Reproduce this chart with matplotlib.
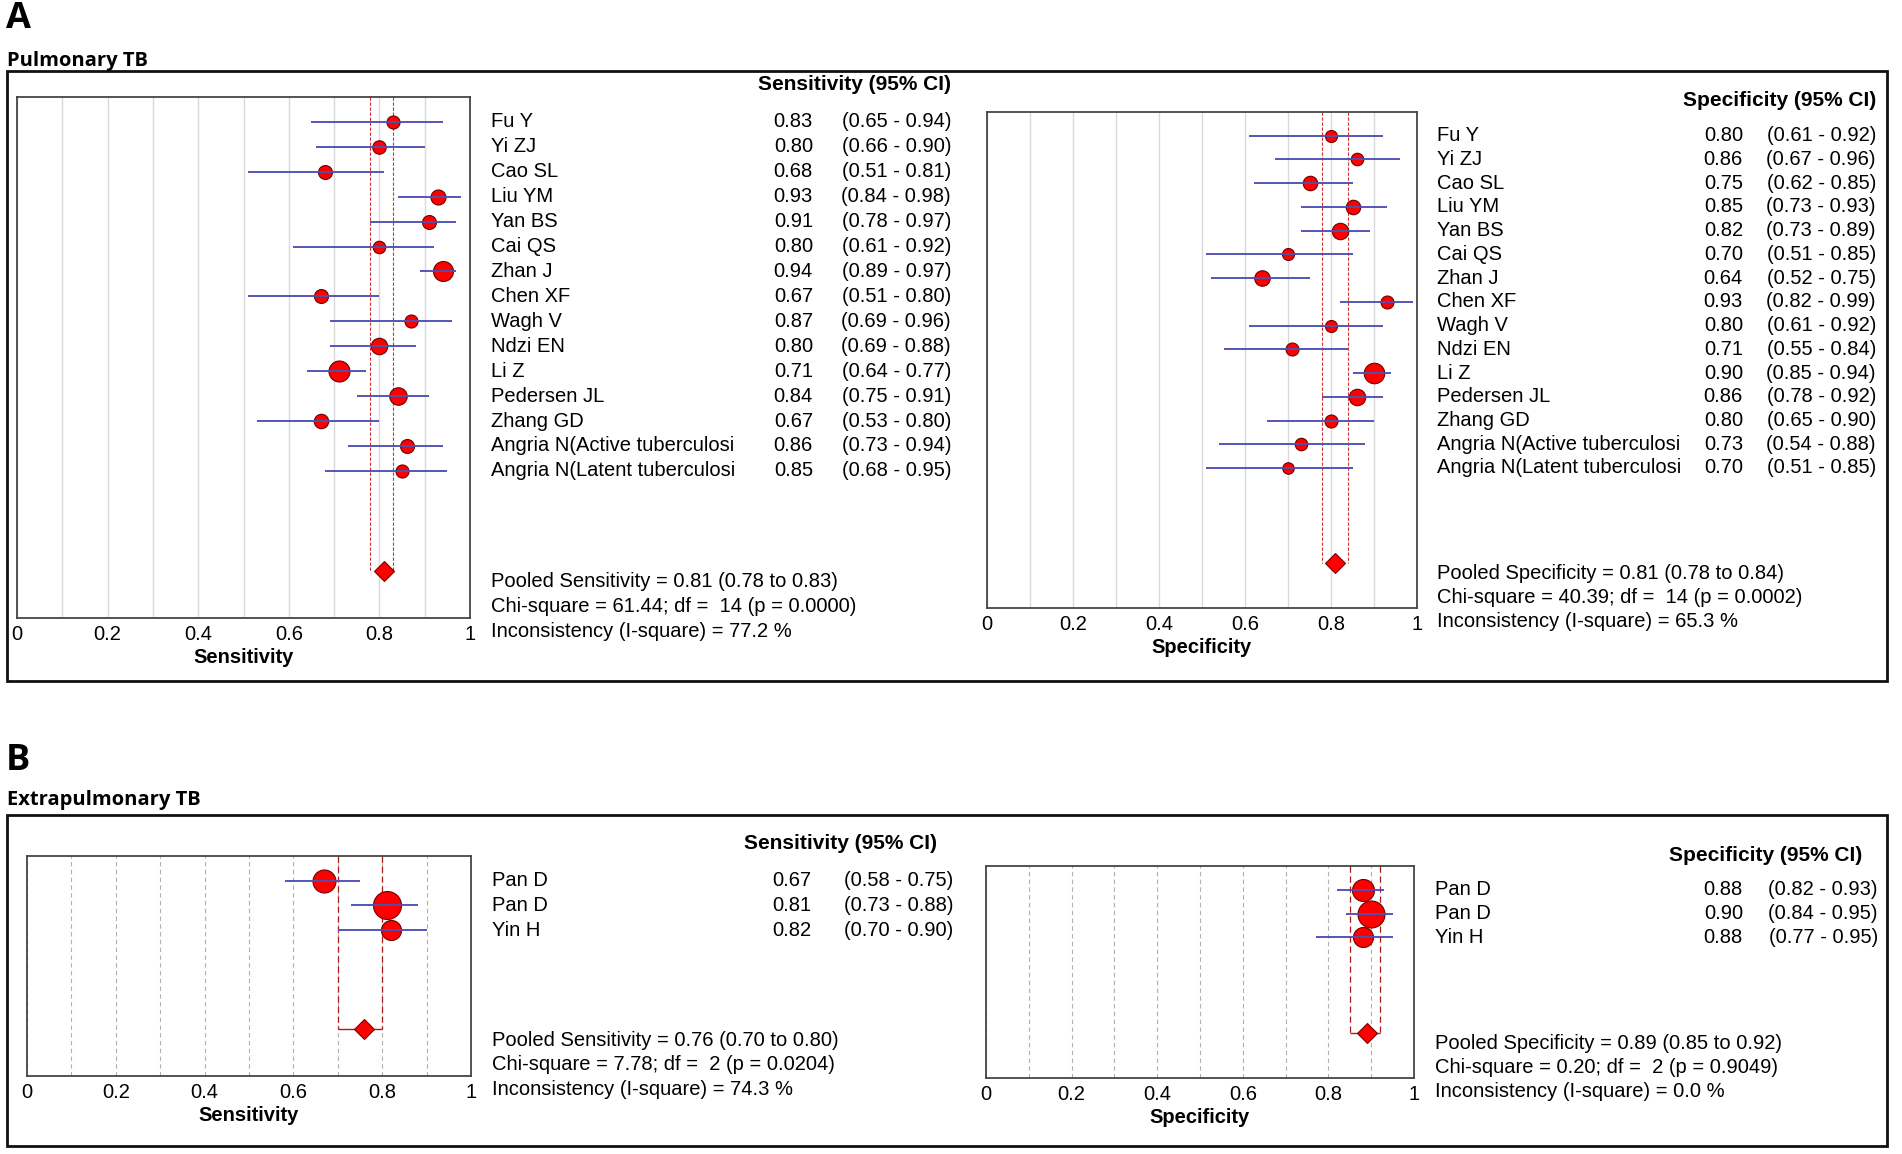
import numpy as np
import matplotlib
matplotlib.use('Agg')
import matplotlib.pyplot as plt
from matplotlib import transforms
from matplotlib.patches import Rectangle

plt.rcParams['font.family'] = ['Liberation Sans', 'DejaVu Sans']

W, H = 1902, 1154

# ---- A: Pulmonary TB ----
pul_studies = ['Fu Y', 'Yi ZJ', 'Cao SL', 'Liu YM', 'Yan BS', 'Cai QS', 'Zhan J', 'Chen XF',
               'Wagh V', 'Ndzi EN', 'Li Z', 'Pedersen JL', 'Zhang GD',
               'Angria N(Active tuberculosi', 'Angria N(Latent tuberculosi']
pul_sens = [0.83, 0.80, 0.68, 0.93, 0.91, 0.80, 0.94, 0.67, 0.87, 0.80, 0.71, 0.84, 0.67, 0.86, 0.85]
pul_sens_lo = [0.65, 0.66, 0.51, 0.84, 0.78, 0.61, 0.89, 0.51, 0.69, 0.69, 0.64, 0.75, 0.53, 0.73, 0.68]
pul_sens_hi = [0.94, 0.90, 0.81, 0.98, 0.97, 0.92, 0.97, 0.80, 0.96, 0.88, 0.77, 0.91, 0.80, 0.94, 0.95]
pul_sens_w = [4.9, 5.2, 5.6, 6.5, 5.6, 4.5, 11.5, 5.6, 4.9, 7.8, 12.7, 8.8, 6.0, 5.6, 4.9]
pul_sens_pool = [0.81, 0.78, 0.83]
pul_sens_het = [61.44, 14, 0.0000, 77.2]

pul_spec = [0.80, 0.86, 0.75, 0.85, 0.82, 0.70, 0.64, 0.93, 0.80, 0.71, 0.90, 0.86, 0.80, 0.73, 0.70]
pul_spec_lo = [0.61, 0.67, 0.62, 0.73, 0.73, 0.51, 0.52, 0.82, 0.61, 0.55, 0.85, 0.78, 0.65, 0.54, 0.51]
pul_spec_hi = [0.92, 0.96, 0.85, 0.93, 0.89, 0.85, 0.75, 0.99, 0.92, 0.84, 0.94, 0.92, 0.90, 0.88, 0.85]
pul_spec_w = [4.8, 5.2, 7.0, 7.0, 9.0, 4.8, 8.0, 5.6, 4.8, 5.6, 14.0, 9.0, 5.6, 5.2, 4.4]
pul_spec_pool = [0.81, 0.78, 0.84]
pul_spec_het = [40.39, 14, 0.0002, 65.3]

# ---- B: Extrapulmonary TB ----
ext_studies = ['Pan D', 'Pan D', 'Yin H']
ext_sens = [0.67, 0.81, 0.82]
ext_sens_lo = [0.58, 0.73, 0.70]
ext_sens_hi = [0.75, 0.88, 0.90]
ext_sens_w = [30.9, 45.8, 23.4]
ext_sens_pool = [0.76, 0.70, 0.80]
ext_sens_het = [7.78, 2, 0.0204, 74.3]

ext_spec = [0.88, 0.90, 0.88]
ext_spec_lo = [0.82, 0.84, 0.77]
ext_spec_hi = [0.93, 0.95, 0.95]
ext_spec_w = [30.0, 45.2, 24.8]
ext_spec_pool = [0.89, 0.85, 0.92]
ext_spec_het = [0.20, 2, 0.9049, 0.0]

xticks = [0, 0.2, 0.4, 0.6, 0.8, 1]
xticklabels = ['0', '0.2', '0.4', '0.6', '0.8', '1']

fig = plt.figure(figsize=(W / 100, H / 100), dpi=100)


def px_axes(x0, y0, x1, y1):
    return fig.add_axes([x0 / W, 1 - y1 / H, (x1 - x0) / W, (y1 - y0) / H])


def forest(ax, names, est, lo, hi, w, pool, het, measure, txt, dmax, dashed_grid, bracket):
    n = len(names)
    yd = n + 3
    ys = np.arange(n)
    ax.set_xlim(0, 1)
    ax.set_ylim(yd + 1.9, -1.0)
    ax.set_xticks(xticks)
    ax.set_xticklabels(xticklabels, fontsize=14.5)
    ax.set_xticks(np.arange(0.1, 1.0, 0.1), minor=True)
    ax.set_yticks([])
    ax.tick_params(axis='x', which='both', length=0, pad=5)
    if dashed_grid:
        ax.grid(True, axis='x', which='both', color='#b0b0b0', lw=0.8, ls=(0, (4, 3)))
    else:
        ax.grid(True, axis='x', which='both', color='#dadada', lw=1.0)
    ax.set_axisbelow(True)
    for s in ax.spines.values():
        s.set_color('#454545')
        s.set_linewidth(1.3)
    ax.set_xlabel(measure, fontsize=14.5, fontweight='bold', labelpad=3)

    # study markers and CIs
    wmax = max(w)
    for i in range(n):
        ms = dmax / 1.389 * np.sqrt(w[i] / wmax)
        ax.plot(est[i], ys[i], 'o', ms=ms, mfc='#ff0000', mec='#700000', mew=0.8, zorder=3)
    ax.hlines(ys, lo, hi, color='#4e4eb4', lw=1.35, zorder=4)

    # pooled estimate
    p, plo, phi = pool
    if bracket:
        ax.vlines([plo, phi], -1.0, yd, color='#b01818', lw=0.9, ls=(0, (5, 3)), zorder=2)
        ax.hlines(yd, plo, phi, color='#b01818', lw=1.0, zorder=2)
    else:
        ax.vlines([plo, phi], -1.0, yd, color='#d03030', lw=0.8, ls=(0, (3, 1.5)), zorder=2)
    ax.plot(p, yd, 'D', ms=10.5, mfc='#ff0000', mec='#800000', mew=0.8, zorder=5)

    # text columns
    xn, xv, xc, xh, hy = txt
    tr = transforms.blended_transform_factory(fig.transFigure, ax.transData)
    ax.text(xh / W, hy, f'{measure} (95% CI)', transform=tr, ha='right', va='center',
            fontsize=15, fontweight='bold')
    for i in range(n):
        ax.text(xn / W, ys[i], names[i], transform=tr, ha='left', va='center', fontsize=14.5)
        ax.text(xv / W, ys[i], f'{est[i]:.2f}', transform=tr, ha='right', va='center', fontsize=14.5)
        ax.text(xc / W, ys[i], f'({lo[i]:.2f} - {hi[i]:.2f})', transform=tr, ha='right',
                va='center', fontsize=14.5)
    chi, df, pv, isq = het
    lines = [f'Pooled {measure} = {p:.2f} ({plo:.2f} to {phi:.2f})',
             f'Chi-square = {chi:.2f}; df =  {df} (p = {pv:.4f})',
             f'Inconsistency (I-square) = {isq:.1f} %']
    for k, line in enumerate(lines):
        ax.text(xn / W, yd + 0.45 + k, line, transform=tr, ha='left', va='center', fontsize=14.5)


# outer boxes
for (x0, y0, x1, y1) in [(7, 71, 1887, 681), (7, 815, 1887, 1146)]:
    fig.patches.append(Rectangle((x0 / W, 1 - y1 / H), (x1 - x0) / W, (y1 - y0) / H,
                                 transform=fig.transFigure, fill=False, ec='#111111', lw=2.0))

title_font = ['Open Sans', 'DejaVu Sans']
fig.text(6 / W, 1 - 19 / H, 'A', fontsize=26, fontweight='bold', family=title_font, va='center')
fig.text(7 / W, 1 - 61 / H, 'Pulmonary TB', fontsize=14.5, fontweight='bold', family=title_font,
         va='center')
fig.text(6 / W, 1 - 761 / H, 'B', fontsize=26, fontweight='bold', family=title_font, va='center')
fig.text(7 / W, 1 - 800 / H, 'Extrapulmonary TB', fontsize=14.5, fontweight='bold',
         family=title_font, va='center')

ax1 = px_axes(17, 97, 470, 618)
forest(ax1, pul_studies, pul_sens, pul_sens_lo, pul_sens_hi, pul_sens_w, pul_sens_pool,
       pul_sens_het, 'Sensitivity', (491, 813, 951, 951, -1.5), 21, False, False)
ax2 = px_axes(987, 112, 1417, 608)
forest(ax2, pul_studies, pul_spec, pul_spec_lo, pul_spec_hi, pul_spec_w, pul_spec_pool,
       pul_spec_het, 'Specificity', (1437, 1743, 1876, 1876, -1.5), 20.5, False, False)
ax3 = px_axes(27, 856, 471, 1076)
forest(ax3, ext_studies, ext_sens, ext_sens_lo, ext_sens_hi, ext_sens_w, ext_sens_pool,
       ext_sens_het, 'Sensitivity', (492, 811, 953, 937, -1.5), 28, True, True)
ax4 = px_axes(986, 866, 1414, 1078)
forest(ax4, ext_studies, ext_spec, ext_spec_lo, ext_spec_hi, ext_spec_w, ext_spec_pool,
       ext_spec_het, 'Specificity', (1435, 1743, 1878, 1862, -1.45), 27, True, True)

fig.savefig('out.png', dpi=100)
